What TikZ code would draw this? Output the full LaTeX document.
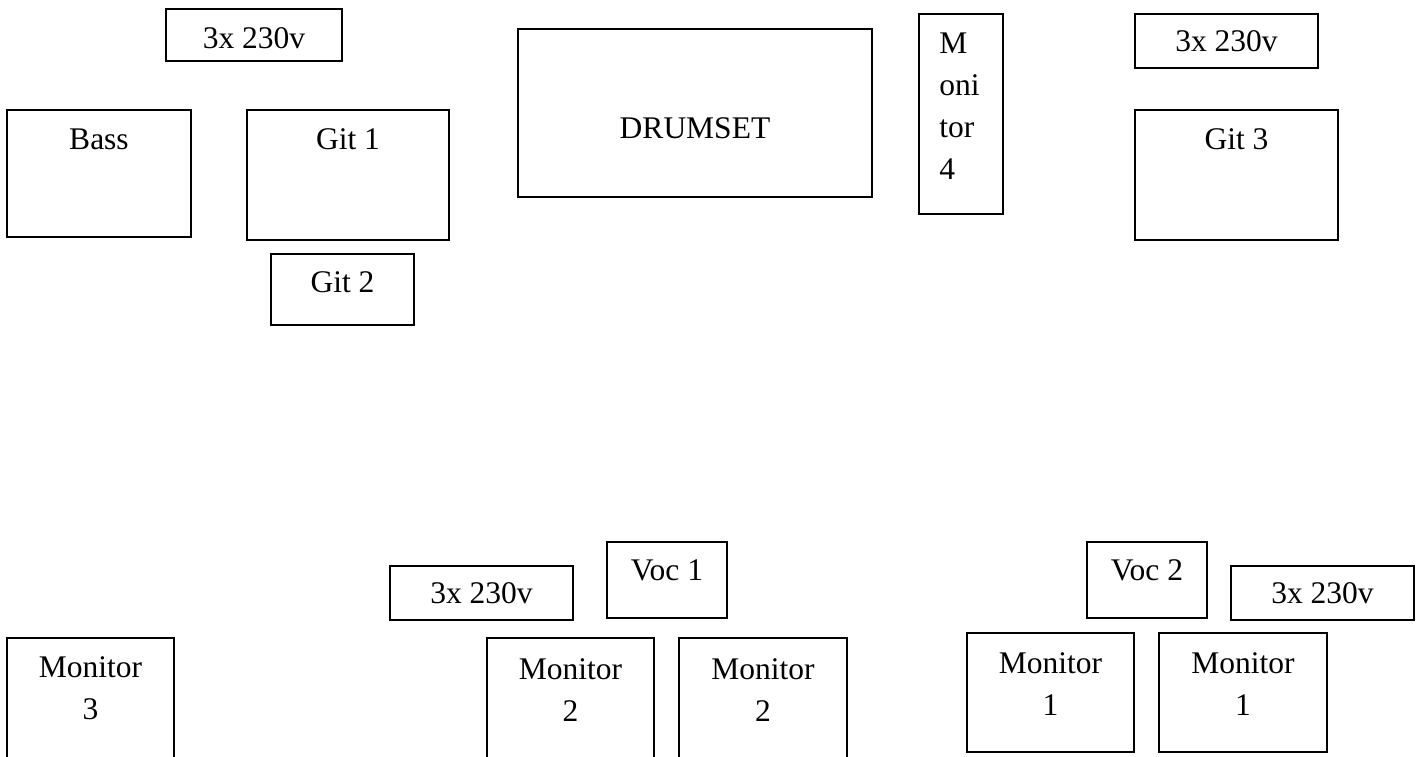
\documentclass[tikz,border=0pt]{standalone}
\usepackage{fontspec}
\setmainfont{Liberation Serif}
\usepackage{tikz}
\usetikzlibrary{positioning}
\newcommand{\stagefont}{\fontsize{31.5}{42}\selectfont}

\begin{document}
\begin{tikzpicture}[x=1pt, y=-1pt,
    box/.style={rectangle, draw=black, line width=1.6pt, inner sep=0pt},
    lbl/.style={font=\stagefont, align=center, inner sep=0pt}
  ]
    \path[use as bounding box, clip] (0,0) rectangle (1424,756);

    % Back line: power, amps
    \node[box, minimum width=176, minimum height=52]  (powA)  at (254, 35)    {};
    \node[box, minimum width=184, minimum height=127] (bass)  at (99, 173.5)  {};
    \node[box, minimum width=202, minimum height=130] (git1)  at (348, 175)   {};
    \node[box, minimum width=143, minimum height=71]  (git2)  at (342.5, 289.5) {};
    % Drums + side monitor
    \node[box, minimum width=354, minimum height=168] (drums) at (695, 113)   {};
    \node[box, minimum width=84,  minimum height=200] (mon4)  at (961, 114)   {};
    % Right side
    \node[box, minimum width=183, minimum height=54]  (powB)  at (1226.5, 41) {};
    \node[box, minimum width=203, minimum height=130] (git3)  at (1236.5, 175) {};

    % Front line: vocals, power, monitors
    \node[box, minimum width=183, minimum height=54]  (powC)  at (481.5, 593) {};
    \node[box, minimum width=120, minimum height=76]  (voc1)  at (667, 580)   {};
    \node[box, minimum width=120, minimum height=76]  (voc2)  at (1147, 580)  {};
    \node[box, minimum width=183, minimum height=54]  (powD)  at (1322.5, 593) {};
    \node[box, minimum width=167, minimum height=142] (mon3)  at (90.5, 709)  {};
    \node[box, minimum width=167, minimum height=142] (mon2a) at (570.5, 709) {};
    \node[box, minimum width=168, minimum height=142] (mon2b) at (763, 709)   {};
    \node[box, minimum width=167, minimum height=119] (mon1a) at (1050.5, 692.5) {};
    \node[box, minimum width=168, minimum height=119] (mon1b) at (1243, 692.5) {};

    % Labels
    \node[lbl, below=19pt of powA.north]  (powAtxt)  {3x 230v};
    \node[lbl, below=19pt of bass.north]  (basstxt)  {Bass};
    \node[lbl, below=19pt of git1.north]  (git1txt)  {Git 1};
    \node[lbl, below=18pt of git2.north]  (git2txt)  {Git 2};
    \node[lbl, below=89pt of drums.north] (drumstxt) {DRUMSET};
    \node[lbl, align=left, below right=19pt and 21pt of mon4.north west]
      (mon4txt) {M\\oni\\tor\\4};
    \node[lbl, below=17pt of powB.north]  (powBtxt)  {3x 230v};
    \node[lbl, below=19pt of git3.north]  (git3txt)  {Git 3};
    \node[lbl, below=17pt of powC.north]  (powCtxt)  {3x 230v};
    \node[lbl, below=18pt of voc1.north]  (voc1txt)  {Voc 1};
    \node[lbl, below=18pt of voc2.north]  (voc2txt)  {Voc 2};
    \node[lbl, below=17pt of powD.north]  (powDtxt)  {3x 230v};
    \node[lbl, below=19pt of mon3.north]  (mon3txt)  {Monitor\\3};
    \node[lbl, below=21pt of mon2a.north] (mon2atxt) {Monitor\\2};
    \node[lbl, below=21pt of mon2b.north] (mon2btxt) {Monitor\\2};
    \node[lbl, below=20pt of mon1a.north] (mon1atxt) {Monitor\\1};
    \node[lbl, below=20pt of mon1b.north] (mon1btxt) {Monitor\\1};
  \end{tikzpicture}
\end{document}
